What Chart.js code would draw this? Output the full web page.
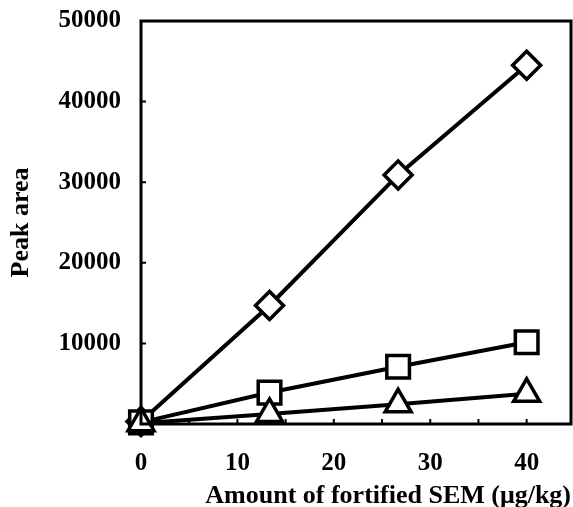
<!DOCTYPE html>
<html>
<head>
<meta charset="utf-8">
<script src="https://cdn.jsdelivr.net/npm/chart.js@4/dist/chart.umd.min.js"></script>
<style>
  html, body { margin: 0; padding: 0; background: #fff; overflow: hidden; }
  #wrap { position: relative; width: 573px; height: 507px; }
</style>
</head>
<body>
<div id="wrap"><canvas id="grafica"></canvas></div>
<script>
// Datos
const fortified = [0, 13.33, 26.67, 40];
const diamondArea = [300, 14700, 30900, 44500];
const squareArea = [200, 3900, 7100, 10150];
const triangleArea = [100, 1250, 2450, 3750];
const xTicks = [0, 5, 10, 15, 20, 25, 30, 35, 40];
const yTicks = [0, 10000, 20000, 30000, 40000, 50000];

const serie = (vals, style, r) => ({
  data: fortified.map((x, i) => ({ x: x, y: vals[i] })),
  borderColor: '#000',
  backgroundColor: '#fff',
  borderWidth: 4,
  pointStyle: style,
  pointRadius: r,
  pointBorderWidth: 3.5,
  pointBackgroundColor: '#fff',
  pointBorderColor: '#000',
  clip: false
});

// marco y marcas hacia dentro
const marco = {
  id: 'marco',
  afterDatasetsDraw(chart) {
    const { ctx, chartArea: a, scales } = chart;
    ctx.save();
    ctx.strokeStyle = '#000';
    ctx.lineWidth = 3;
    ctx.strokeRect(a.left, a.top, a.right - a.left, a.bottom - a.top);
    ctx.lineWidth = 2;
    ctx.beginPath();
    xTicks.forEach(v => {
      const px = scales.x.getPixelForValue(v);
      ctx.moveTo(px, a.bottom);
      ctx.lineTo(px, a.bottom - 5);
    });
    yTicks.forEach(v => {
      const py = scales.y.getPixelForValue(v);
      ctx.moveTo(a.left, py);
      ctx.lineTo(a.left + 5, py);
    });
    ctx.stroke();
    ctx.restore();
  }
};

const fuente = { family: '"Liberation Serif", "Times New Roman", serif', weight: 'bold', size: 25 };

new Chart(document.getElementById('grafica').getContext('2d'), {
  type: 'line',
  data: {
    datasets: [
      serie(triangleArea, 'triangle', 15),
      serie(squareArea, 'rect', 16),
      serie(diamondArea, 'rectRot', 14)
    ]
  },
  options: {
    responsive: true,
    maintainAspectRatio: false,
    animation: false,
    layout: { autoPadding: false, padding: { left: 0, right: 2, top: 21, bottom: 0 } },
    plugins: { legend: { display: false }, tooltip: { enabled: false } },
    scales: {
      x: {
        type: 'linear',
        min: 0,
        max: 44.6,
        afterBuildTicks: s => { s.ticks = xTicks.map(v => ({ value: v })); },
        afterFit: s => { s.height = 83; s.paddingLeft = 0; s.paddingRight = 0; },
        grid: { display: false, drawTicks: false },
        border: { display: false },
        ticks: {
          color: '#000',
          font: fuente,
          padding: 25,
          maxRotation: 0,
          callback: v => (v % 10 === 0 ? v : '')
        },
        title: {
          display: true,
          align: 'end',
          text: 'Amount of fortified SEM (\u03bcg/kg)',
          color: '#000',
          font: { ...fuente, size: 26, lineHeight: 0.8 },
          padding: { top: 0, bottom: 0 }
        }
      },
      y: {
        min: 0,
        max: 50000,
        afterBuildTicks: s => { s.ticks = yTicks.map(v => ({ value: v })); },
        afterFit: s => { s.width = 141; s.paddingTop = 0; s.paddingBottom = 0; },
        grid: { display: false, drawTicks: false },
        border: { display: false },
        ticks: {
          color: '#000',
          font: fuente,
          padding: 20,
          callback: v => (v === 0 ? '' : v)
        },
        title: {
          display: true,
          text: 'Peak area',
          color: '#000',
          font: { ...fuente, size: 26 },
          padding: { top: 6, bottom: 0 }
        }
      }
    }
  },
  plugins: [marco]
});
</script>
</body>
</html>
